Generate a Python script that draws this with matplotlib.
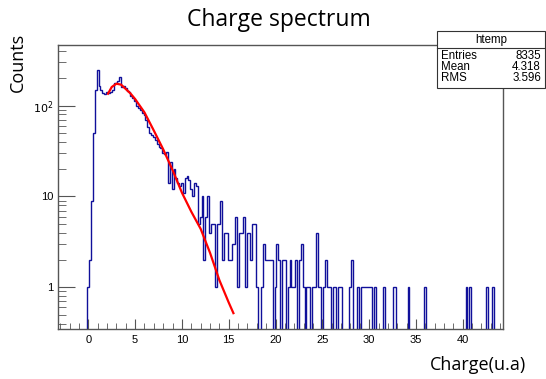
import numpy as np
import matplotlib
matplotlib.use("Agg")
import matplotlib.pyplot as plt
import matplotlib.ticker as ticker
from matplotlib.patches import Rectangle

# histogram: bin width 0.2, first bin centred on 0
bin_width = 0.2
bin_start = -0.1
counts_dense = [
    1, 2, 9, 50, 150, 245, 165, 150, 138, 135,
    140, 138, 142, 150, 178, 176, 185, 205, 160, 165,
    155, 145, 140, 128, 120, 112, 100, 95, 90, 82,
    78, 70, 58, 50, 48, 45, 42, 38, 35, 34,
    30, 29, 31, 14, 24, 12, 20, 16, 14, 13,
    14, 11, 16, 17, 15, 12, 10, 14, 13, 5,
    6, 10, 2, 6, 10, 4, 5, 5, 1, 5,
    5, 9, 2, 4, 4, 2, 2, 3, 3, 6,
    1, 4, 4, 6, 1, 4, 4, 2, 5, 5,
    1, 0, 0, 1, 3, 2, 2, 2, 2, 0,
    1, 3, 2, 0, 2, 2, 0, 1, 2, 1,
    1, 2, 0, 2, 3, 1, 0, 1, 1, 0,
    1, 1, 4, 1, 1, 0, 1, 2, 1, 1,
    0, 1, 1, 0, 1, 1, 0, 0, 0, 0,
    1, 2, 0, 0, 1, 0, 1, 1, 1, 1,
    1, 1, 0, 1, 0, 0, 0, 0, 1, 0,
]
tail_hits = [32.6, 32.8, 34.2, 36.0, 40.4, 40.8, 42.6, 43.2]
n_bins = 222

# red fit curve
fit_x = [2.1, 2.5, 3.0, 3.5, 4.0, 4.5, 5.0, 6.0, 7.0, 8.0, 9.0, 10.0,
         11.0, 12.0, 13.0, 14.0, 15.0, 15.5]
fit_y = [135, 160, 174, 170, 152, 136, 118, 84, 53, 33, 19.5, 11,
         6.8, 4.4, 2.4, 1.2, 0.68, 0.52]

stats_names = ["Entries", "Mean", "RMS"]
stats_values = ["8335", "4.318", "3.596"]

edges = bin_start + bin_width * np.arange(n_bins + 1)
counts = np.zeros(n_bins)
counts[:len(counts_dense)] = counts_dense
for h in tail_hits:
    counts[int((h - bin_start) // bin_width)] += 1

W, H = 546, 379
fig = plt.figure(figsize=(W / 100, H / 100), dpi=100)
fig.patch.set_facecolor("#ffffff")
ax = fig.add_axes([58 / W, 1 - 329 / H, (503 - 58) / W, (329 - 45) / H])

ax.set_yscale("log")
ax.stairs(np.where(counts > 0, counts, 1e-3), edges, baseline=1e-3,
          color="#10109a", linewidth=1.0)
ax.plot(fit_x, fit_y, color="#ff0000", linewidth=1.6)

ax.set_xlim(-3.24, 44.3)
ax.set_ylim(0.348, 464)

ax.xaxis.set_major_locator(ticker.MultipleLocator(5))
ax.xaxis.set_minor_locator(ticker.MultipleLocator(1))
ax.set_yticks([1, 10, 100])
ax.set_yticklabels(["1", "10", "$10^{2}$"])
ax.yaxis.set_minor_locator(ticker.LogLocator(base=10, subs=np.arange(2, 10)))
ax.yaxis.set_minor_formatter(ticker.NullFormatter())

ax.tick_params(axis="both", which="both", direction="in", top=False,
               right=False, colors="#555555", labelcolor="#000000",
               labelsize=8, labelfontfamily="Liberation Sans")
ax.tick_params(axis="x", which="major", length=7, pad=4)
ax.tick_params(axis="x", which="minor", length=4)
ax.tick_params(axis="y", which="major", length=12, pad=3)
ax.tick_params(axis="y", which="minor", length=6)
for s in ax.spines.values():
    s.set_color("#555555")
    s.set_linewidth(1.0)

fig.text(279 / W, 1 - 20 / H, "Charge spectrum", ha="center", va="center",
         fontsize=16.5, family="Open Sans")
fig.text(18 / W, 1 - 62 / H, "Counts", ha="center", va="center",
         rotation=90, fontsize=13, family="Open Sans")
fig.text(478 / W, 1 - 365 / H, "Charge(u.a)", ha="center", va="center",
         fontsize=13, family="Open Sans")

# stats box
bx0, bx1, by0, by1, byl = 437, 545, 31, 88, 48
fig.patches.append(Rectangle((bx0 / W, 1 - by1 / H), (bx1 - bx0) / W,
                             (by1 - by0) / H, transform=fig.transFigure,
                             facecolor="white", edgecolor="#333333",
                             linewidth=0.8, zorder=5))
fig.add_artist(plt.Line2D([bx0 / W, bx1 / W], [1 - byl / H, 1 - byl / H],
                          transform=fig.transFigure, color="#333333",
                          linewidth=0.8, zorder=6))
fig.text((bx0 + bx1) / 2 / W, 1 - 39.5 / H, "htemp", ha="center",
         va="center", fontsize=8.3, family="Liberation Sans", zorder=7)
for i, (n, v) in enumerate(zip(stats_names, stats_values)):
    yy = 1 - (56 + 11 * i) / H
    fig.text(441 / W, yy, n, ha="left", va="center", fontsize=8.3,
             family="Liberation Sans", zorder=7)
    fig.text(541 / W, yy, v, ha="right", va="center", fontsize=8.3,
             family="Liberation Sans", zorder=7)

fig.savefig("out.png", dpi=100, facecolor=fig.get_facecolor())
